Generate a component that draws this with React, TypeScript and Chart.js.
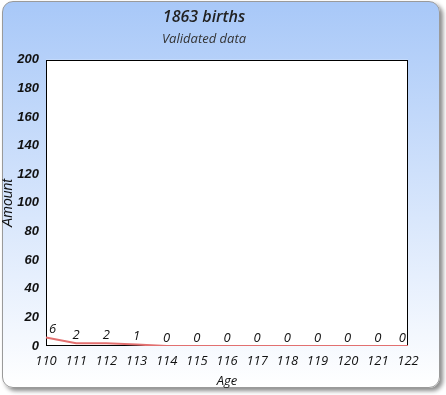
import React, { useEffect, useRef } from "react";
import { Chart, registerables } from "chart.js";

Chart.register(...registerables);

const ages = ["110", "111", "112", "113", "114", "115", "116", "117", "118", "119", "120", "121", "122"];
const births = [6, 2, 2, 1, 0, 0, 0, 0, 0, 0, 0, 0, 0];
const titleText = "1863 births";
const subtitleText = "Validated data";
const xTitle = "Age";
const yTitle = "Amount";
const yMax = 200;
const yStep = 20;

const plotPlugin = {
  id: "plotBox",
  beforeDatasetsDraw(chart: any) {
    const { ctx, chartArea: a } = chart;
    ctx.save();
    ctx.fillStyle = "#ffffff";
    ctx.fillRect(a.left, a.top, a.right - a.left, a.bottom - a.top);
    ctx.strokeStyle = "#000000";
    ctx.lineWidth = 1;
    ctx.strokeRect(Math.round(a.left) + 0.5, Math.round(a.top) + 0.5, Math.round(a.right - a.left) - 1, Math.round(a.bottom - a.top) - 1);
    ctx.restore();
  },
};

const labelPlugin = {
  id: "valueLabels",
  afterDatasetsDraw(chart: any) {
    const { ctx, chartArea: a } = chart;
    const meta = chart.getDatasetMeta(0);
    const data = chart.data.datasets[0].data;
    ctx.save();
    ctx.font = "italic 13px 'Open Sans'";
    ctx.fillStyle = "#111111";
    ctx.textAlign = "center";
    ctx.textBaseline = "middle";
    meta.data.forEach((pt: any, i: number) => {
      const txt = String(data[i]);
      const w = ctx.measureText(txt).width;
      let x = pt.x;
      x = Math.max(a.left + w / 2 + 3, Math.min(a.right - w / 2 - 2, x));
      ctx.fillText(txt, x, pt.y - 8);
    });
    ctx.restore();
  },
};

export default function App() {
  const ref = useRef<HTMLCanvasElement | null>(null);
  useEffect(() => {
    if (!ref.current) return;
    const chart = new Chart(ref.current, {
      type: "line",
      data: {
        labels: ages,
        datasets: [
          {
            data: births,
            borderColor: "#e27070",
            borderWidth: 2,
            pointRadius: 0,
            fill: false,
            tension: 0,
          },
        ],
      },
      options: {
        animation: false,
        responsive: false,
        devicePixelRatio: 1,
        layout: { padding: { left: 0, right: 38, top: 0, bottom: 0 } },
        plugins: {
          legend: { display: false },
          tooltip: { enabled: false },
          title: {
            display: true,
            text: titleText,
            color: "#222222",
            font: { family: "'Open Sans'", size: 16, weight: "600", style: "italic", lineHeight: 1.2 },
            padding: { top: 8, bottom: 0 },
          },
          subtitle: {
            display: true,
            text: subtitleText,
            color: "#333333",
            font: { family: "'Open Sans'", size: 13, weight: "normal", style: "italic", lineHeight: 1.2 },
            padding: { top: 4.5, bottom: 12.5 },
          },
        },
        scales: {
          x: {
            grid: { display: false, drawTicks: false, tickLength: 0 },
            border: { display: false },
            ticks: {
              color: "#111111",
              font: { family: "'Open Sans'", size: 13, style: "italic" },
              padding: 7,
              maxRotation: 0,
              autoSkip: false,
            },
            title: {
              display: true,
              text: xTitle,
              color: "#111111",
              font: { family: "'Open Sans'", size: 13, style: "italic" },
              padding: { top: 0, bottom: 6 },
            },
            afterFit: (s: any) => {
              s.height = 49;
            },
          },
          y: {
            min: 0,
            max: yMax,
            grid: { display: false, drawTicks: false, tickLength: 0 },
            border: { display: false },
            ticks: {
              stepSize: yStep,
              color: "#111111",
              font: { family: "'Liberation Sans'", size: 13, style: "italic", weight: "bold" },
              padding: 7,
            },
            title: {
              display: true,
              text: yTitle,
              color: "#111111",
              font: { family: "'Liberation Sans'", size: 14, style: "italic" },
              padding: { top: 0, bottom: 0 },
            },
            afterFit: (s: any) => {
              s.width = 46;
            },
          },
        },
      },
      plugins: [plotPlugin, labelPlugin],
    });
    return () => chart.destroy();
  }, []);

  return (
    <div style={{ position: "absolute", left: 0, top: 0, width: 446, height: 395 }}>
      <div
        style={{
          position: "absolute",
          left: 2,
          top: 1,
          width: 438,
          height: 387,
          boxSizing: "border-box",
          border: "1px solid #9a9a9a",
          borderRadius: 11,
          background: "linear-gradient(to bottom, #a8c8f8 0%, #ffffff 100%)",
          boxShadow: "3px 3px 4px rgba(0,0,0,0.45)",
        }}
      />
      <canvas ref={ref} width={446} height={395} style={{ position: "absolute", left: 0, top: 0, width: 446, height: 395 }} />
    </div>
  );
}
